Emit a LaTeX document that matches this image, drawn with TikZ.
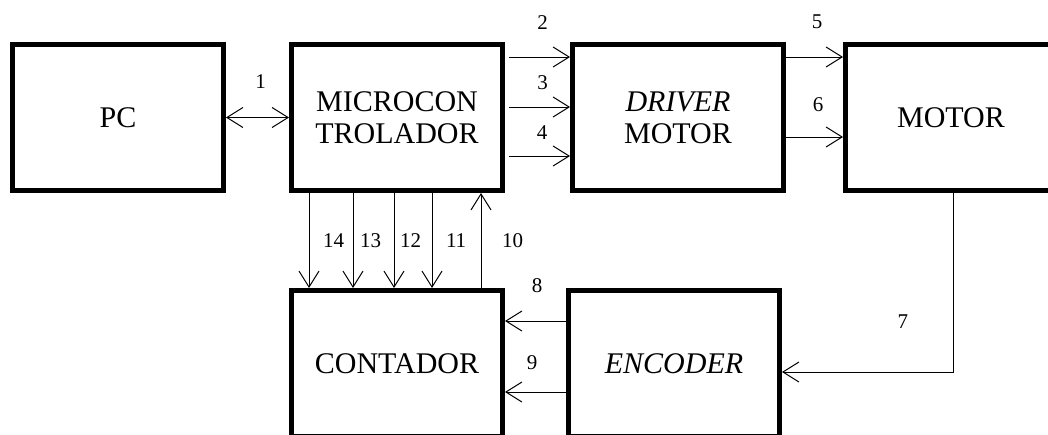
\documentclass[tikz,border=0pt]{standalone}
\usepackage{fontspec}
\setmainfont{Liberation Serif}
\usetikzlibrary{positioning,arrows.meta}
\tikzset{blk/.style={draw, line width=5pt, minimum width=211pt, minimum height=146pt, inner sep=0pt, align=center, font=\fontsize{30}{32}\selectfont}}
\tikzset{sigarrow/.style={->, line width=1pt}}
\tikzset{num/.style={inner sep=0pt, font=\fontsize{21}{21}\selectfont}}

\begin{document}
\begin{tikzpicture}[x=1pt, y=-1pt, >={Straight Barb[length=16pt,width=20pt]}]
\useasboundingbox (0,0) rectangle (1048,434);
\clip (0,0) rectangle (1048,434);
\fill[white] (0,0) rectangle (1048,434);
\node[blk] (pc) at (118,117.5) {PC};
\node[blk, right=63pt of pc] (mcu) {MICROCON\\TROLADOR};
\node[blk, right=65pt of mcu] (drv) {\textit{DRIVER}\\MOTOR};
\node[blk, right=57pt of drv] (mot) {MOTOR};
\node[blk, below=95pt of mcu] (cnt) {CONTADOR};
\node[blk, right=61pt of cnt] (enc) {\textit{ENCODER}};
% top row
\draw[sigarrow, <->] (pc) -- node[num, above=28.5pt, xshift=3pt] {1} (mcu);
\draw[sigarrow, shorten <=4pt] ([yshift=60.5pt]mcu.east) -- node[num, above=27.5pt, xshift=5pt] {2} ([yshift=60.5pt]drv.west);
\draw[sigarrow, shorten <=4pt] ([yshift=10.5pt]mcu.east) -- node[num, above=17pt, xshift=5pt] {3} ([yshift=10.5pt]drv.west);
\draw[sigarrow, shorten <=4pt] ([yshift=-38.5pt]mcu.east) -- node[num, above=16pt, xshift=4.5pt] {4} ([yshift=-38.5pt]drv.west);
\draw[sigarrow] ([yshift=60.5pt]drv.east) -- node[num, above=27.5pt, xshift=2.5pt] {5} ([yshift=60.5pt]mot.west);
\draw[sigarrow] ([yshift=-19.5pt]drv.east) -- node[num, above=24.5pt, xshift=3.5pt] {6} ([yshift=-19.5pt]mot.west);
% feedback
\draw[sigarrow] ([xshift=2pt]mot.south) |- node[num, pos=0.36, left=44.5pt] {7} ([yshift=-8.5pt]enc.east);
\draw[sigarrow] ([yshift=42.5pt]enc.west) -- node[num, above=27.5pt, xshift=1.5pt] {8} ([yshift=42.5pt]cnt.east);
\draw[sigarrow] ([yshift=-28.5pt]enc.west) -- node[num, above=21.5pt, xshift=-3.5pt] {9} ([yshift=-28.5pt]cnt.east);
% bus to counter
\draw[sigarrow] ([xshift=84pt]cnt.north) -- node[num, right=20.5pt] {10} ([xshift=84pt]mcu.south);
\draw[sigarrow] ([xshift=35pt]mcu.south) -- node[num, right=13.5pt] {11} ([xshift=35pt]cnt.north);
\draw[sigarrow] ([xshift=-3pt]mcu.south) -- node[num, right=5.5pt] {12} ([xshift=-3pt]cnt.north);
\draw[sigarrow] ([xshift=-44pt]mcu.south) -- node[num, right=6.5pt] {13} ([xshift=-44pt]cnt.north);
\draw[sigarrow] ([xshift=-88pt]mcu.south) -- node[num, right=13.5pt] {14} ([xshift=-88pt]cnt.north);
\end{tikzpicture}
\end{document}
